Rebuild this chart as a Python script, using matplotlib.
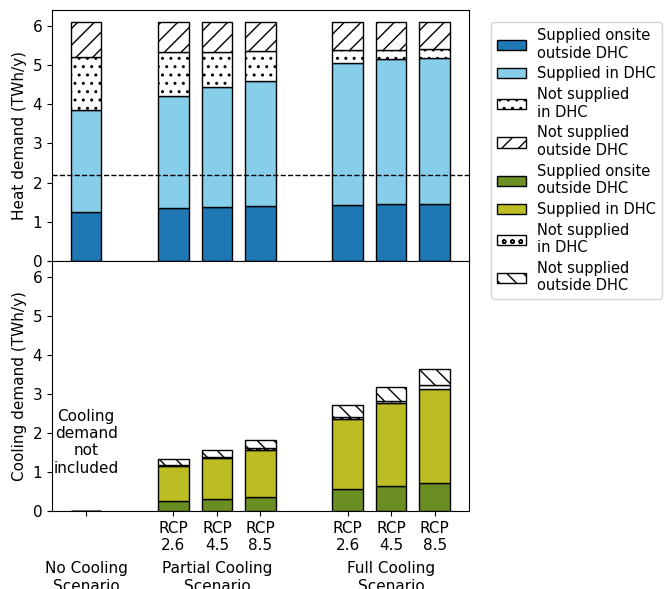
import numpy as np
import matplotlib
matplotlib.use("Agg")
import matplotlib.pyplot as plt

plt.rcParams["font.size"] = 11

# x positions of the bars (gaps between scenarios)
positions = [0, 2, 3, 4, 6, 7, 8]
tick_labels = ["", "RCP\n2.6", "RCP\n4.5", "RCP\n8.5", "RCP\n2.6", "RCP\n4.5", "RCP\n8.5"]
group_labels = ["No Cooling\nScenario", "Partial Cooling\nScenario", "Full Cooling\nScenario"]
group_centers = [0, 3, 7]

# heat demand (TWh/y), stacked
heat_onsite = [1.25, 1.36, 1.38, 1.39, 1.43, 1.44, 1.45]
heat_dhc = [2.61, 2.85, 3.06, 3.21, 3.64, 3.71, 3.73]
heat_ns_dhc = [1.34, 1.13, 0.90, 0.76, 0.33, 0.25, 0.23]
heat_ns_out = [0.91, 0.77, 0.77, 0.75, 0.71, 0.71, 0.70]
heat_threshold = 2.2

# cooling demand (TWh/y), stacked
cool_onsite = [0.0, 0.27, 0.32, 0.36, 0.57, 0.65, 0.73]
cool_dhc = [0.0, 0.88, 1.04, 1.21, 1.78, 2.12, 2.40]
cool_ns_dhc = [0.0, 0.03, 0.03, 0.04, 0.05, 0.04, 0.09]
cool_ns_out = [0.0, 0.16, 0.18, 0.22, 0.31, 0.37, 0.43]

width = 0.7

fig, (ax1, ax2) = plt.subplots(2, 1, sharex=True, sharey=True, figsize=(6.67, 5.89), dpi=100)
fig.subplots_adjust(left=0.078, right=0.703, top=0.983, bottom=0.132, hspace=0)

# --- heat ---
b = np.zeros(len(positions))
ax1.bar(positions, heat_onsite, width, bottom=b, color="#1f77b4", edgecolor="black",
        label="Supplied onsite\noutside DHC")
b += heat_onsite
ax1.bar(positions, heat_dhc, width, bottom=b, color="#87ceeb", edgecolor="black",
        label="Supplied in DHC")
b += heat_dhc
ax1.bar(positions, heat_ns_dhc, width, bottom=b, color="white", edgecolor="black", hatch="..",
        label="Not supplied\nin DHC")
b += heat_ns_dhc
ax1.bar(positions, heat_ns_out, width, bottom=b, color="white", edgecolor="black", hatch="//",
        label="Not supplied\noutside DHC")
ax1.axhline(heat_threshold, color="black", linestyle="--", linewidth=1)
ax1.set_ylabel("Heat demand (TWh/y)")
ax1.tick_params(axis="x", bottom=False)

# --- cooling ---
b = np.zeros(len(positions))
ax2.bar(positions, cool_onsite, width, bottom=b, color="#6b8e23", edgecolor="black",
        label="Supplied onsite\noutside DHC")
b += cool_onsite
ax2.bar(positions, cool_dhc, width, bottom=b, color="#bcbd22", edgecolor="black",
        label="Supplied in DHC")
b += cool_dhc
ax2.bar(positions, cool_ns_dhc, width, bottom=b, color="white", edgecolor="black", hatch="oo",
        label="Not supplied\nin DHC")
b += cool_ns_dhc
ax2.bar(positions, cool_ns_out, width, bottom=b, color="white", edgecolor="black", hatch="\\\\",
        label="Not supplied\noutside DHC")
ax2.set_ylabel("Cooling demand (TWh/y)")
ax2.text(0, 1.77, "Cooling\ndemand\nnot\nincluded", ha="center", va="center")

ax2.set_xticks(positions)
ax2.set_xticklabels(tick_labels)
ax2.set_yticks(range(0, 7))
for x, lab in zip(group_centers, group_labels):
    ax2.annotate(lab, xy=(x, 0), xycoords=ax2.get_xaxis_transform(),
                 xytext=(0, -36), textcoords="offset points", ha="center", va="top")

h1, l1 = ax1.get_legend_handles_labels()
h2, l2 = ax2.get_legend_handles_labels()
ax1.legend(h1 + h2, l1 + l2, loc="upper left", bbox_to_anchor=(1.035, 0.98),
           fontsize=10.5, labelspacing=0.4)

plt.savefig("out.png", dpi=100)
